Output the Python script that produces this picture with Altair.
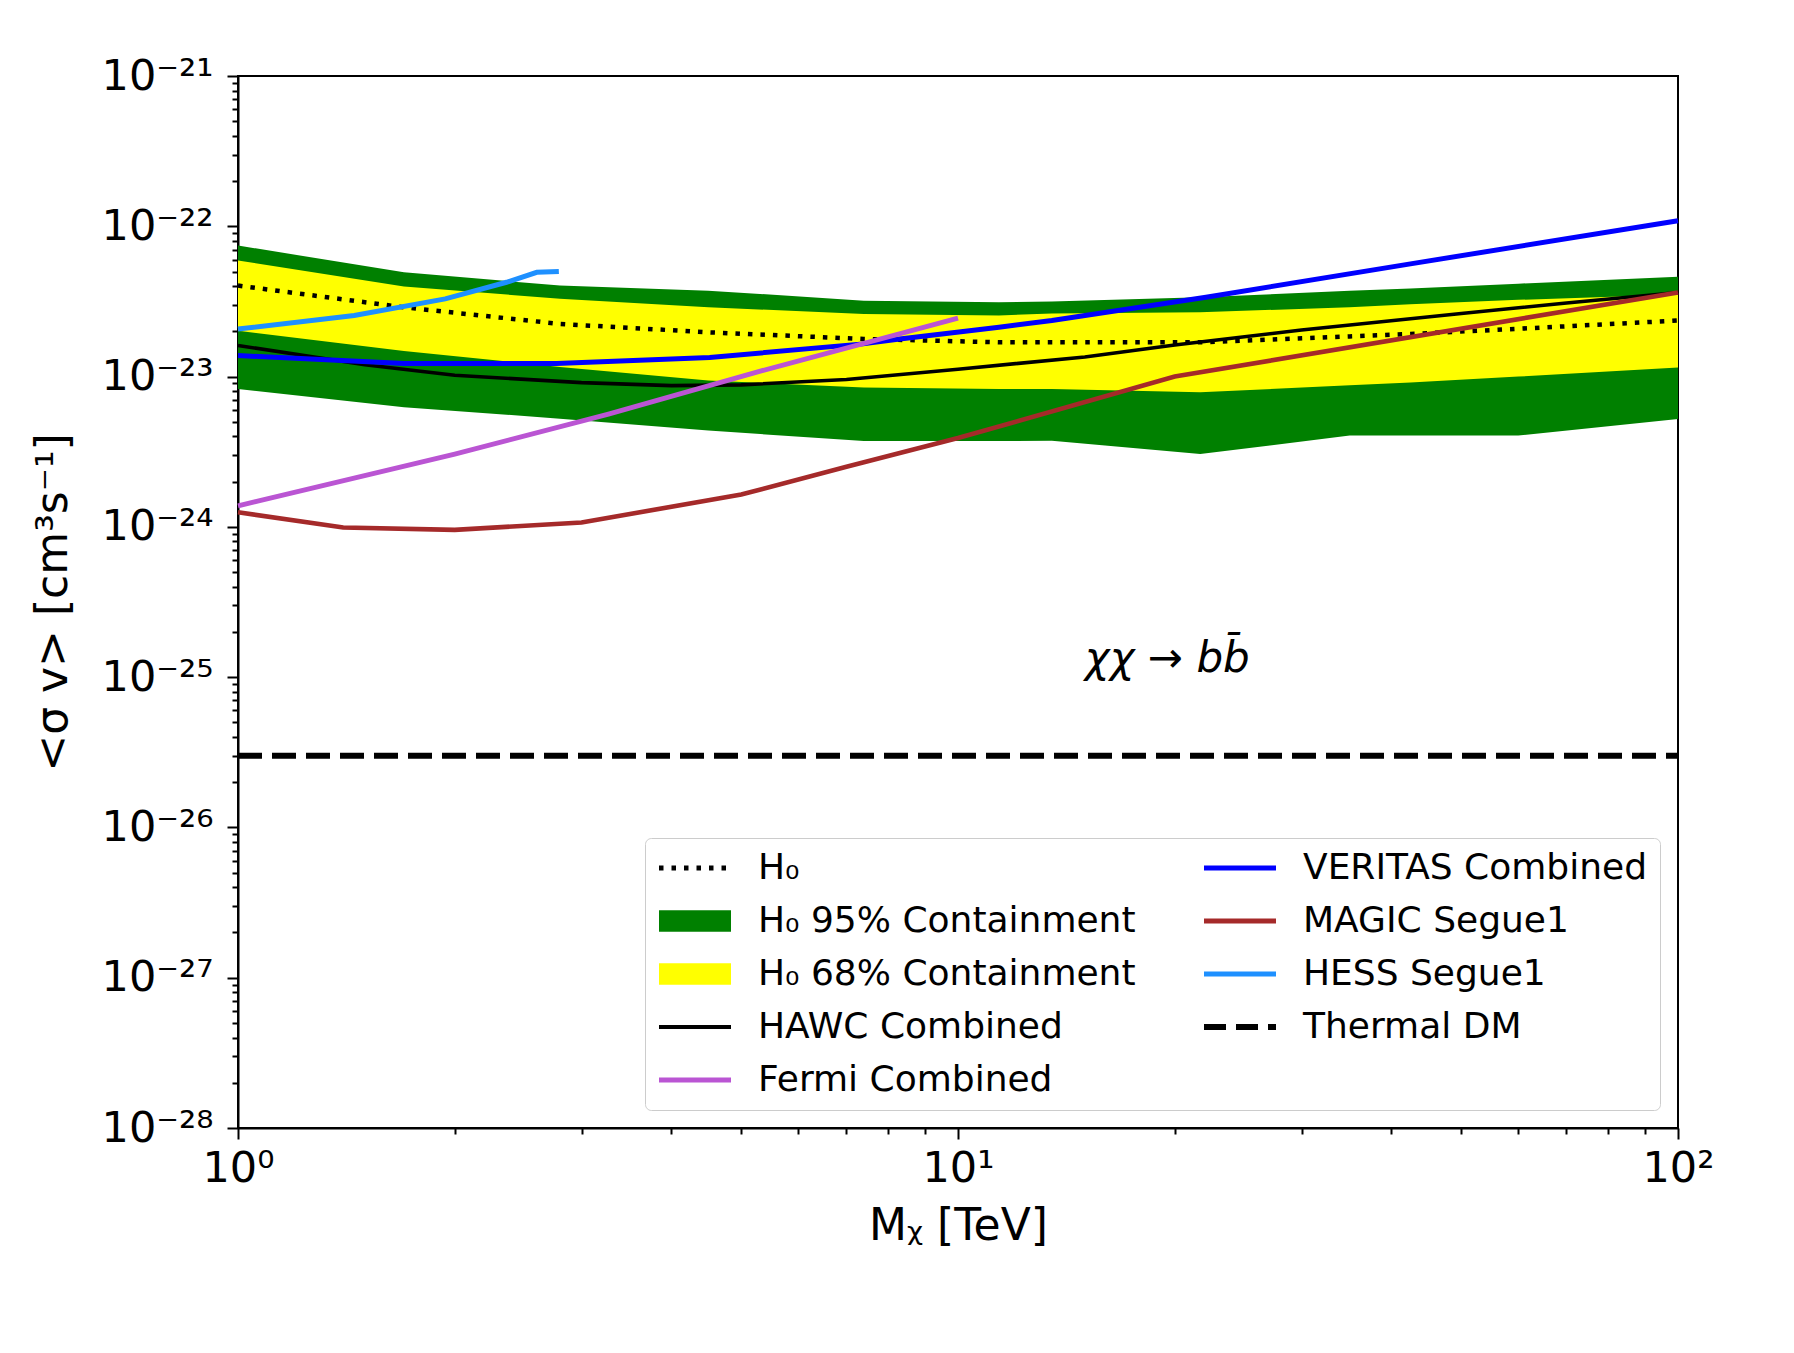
import altair as alt
import pandas as pd

# ---- Expected-limit bands (HAWC, H0 hypothesis), mass in TeV, <sigma v> in cm^3 s^-1
band_mass = [1, 1.7, 2.8, 4.5, 7.4, 11.4, 13.5, 21.7, 35, 42.5, 60, 100]
h0_median = [4.03e-23, 2.89e-23, 2.24e-23, 1.97e-23, 1.78e-23, 1.69e-23,
             1.69e-23, 1.69e-23, 1.85e-23, 1.92e-23, 2.08e-23, 2.36e-23]
h0_95_low = [8.26e-24, 6.24e-24, 5.25e-24, 4.37e-24, 3.72e-24, 3.72e-24,
             3.74e-24, 3.05e-24, 4.05e-24, 4.05e-24, 4.05e-24, 5.22e-24]
h0_95_high = [7.45e-23, 4.94e-23, 4.03e-23, 3.73e-23, 3.20e-23, 3.12e-23,
              3.16e-23, 3.37e-23, 3.72e-23, 3.86e-23, 4.15e-23, 4.62e-23]
h0_68_low = [2.02e-23, 1.48e-23, 1.16e-23, 9.40e-24, 8.47e-24, 8.26e-24,
             8.26e-24, 7.85e-24, 8.75e-24, 9.14e-24, 1.00e-23, 1.15e-23]
h0_68_high = [5.92e-23, 3.98e-23, 3.29e-23, 2.89e-23, 2.61e-23, 2.55e-23,
              2.63e-23, 2.68e-23, 2.89e-23, 3.03e-23, 3.24e-23, 3.51e-23]

# ---- Observed limits
hawc_mass = [1, 1.5, 2, 3, 4, 5, 7, 10, 15, 20, 30, 50, 70, 100]
hawc_limit = [1.61e-23, 1.20e-23, 1.02e-23, 9.12e-24, 8.71e-24, 8.81e-24, 9.55e-24,
              1.12e-23, 1.35e-23, 1.62e-23, 2.04e-23, 2.63e-23, 3.09e-23, 3.63e-23]

veritas_mass = [1, 1.7, 2.77, 4.52, 7.38, 8.3, 11.4, 13.5, 22.1, 42.5, 100]
veritas_limit = [1.38e-23, 1.22e-23, 1.22e-23, 1.34e-23, 1.65e-23, 1.78e-23,
                 2.13e-23, 2.36e-23, 3.37e-23, 5.62e-23, 1.09e-22]

magic_mass = [1, 1.4, 2, 3, 5, 7, 10, 20, 100]
magic_limit = [1.25e-24, 9.9e-25, 9.55e-25, 1.07e-24, 1.64e-24, 2.51e-24,
               3.9e-24, 1.0e-23, 3.63e-23]

hess_mass = [1, 1.45, 1.94, 2.36, 2.6, 2.79]
hess_limit = [2.07e-23, 2.55e-23, 3.29e-23, 4.24e-23, 4.94e-23, 5.01e-23]

fermi_mass = [1, 2, 3.27, 5.33, 10]
fermi_limit = [1.38e-24, 3.05e-24, 5.62e-24, 1.09e-23, 2.45e-23]

thermal_mass = [1, 100]
thermal_xsec = [3e-26, 3e-26]

# ---- Annotation
anno_mass = [15.0]
anno_xsec = [1.32e-25]
anno_text = ["χχ → bb̄"]

# ---- Axis ticks
x_major = [1, 10, 100]
x_tick_labels = ["10⁰", "10¹", "10²"]
x_minor = [m * d for d in (1, 10) for m in range(2, 10)]
y_exponents = [-28, -27, -26, -25, -24, -23, -22, -21]
y_tick_labels = ["10⁻²⁸", "10⁻²⁷", "10⁻²⁶", "10⁻²⁵", "10⁻²⁴", "10⁻²³", "10⁻²²", "10⁻²¹"]
y_major = [10.0 ** e for e in y_exponents]
y_minor = [m * 10.0 ** e for e in y_exponents[:-1] for m in range(2, 10)]

# ---- Series names in legend order (filled column by column) and colours
L_H0 = "H₀"
L_95 = "H₀ 95% Containment"
L_68 = "H₀ 68% Containment"
L_HAWC = "HAWC Combined"
L_FERMI = "Fermi Combined"
L_VER = "VERITAS Combined"
L_MAGIC = "MAGIC Segue1"
L_HESS = "HESS Segue1"
L_TH = "Thermal DM"

legend_order = [L_H0, L_95, L_68, L_HAWC, L_FERMI, L_VER, L_MAGIC, L_HESS, L_TH]
legend_colors = ["black", "green", "yellow", "black", "mediumorchid",
                 "blue", "brown", "dodgerblue", "black"]

FONT = "DejaVu Sans"

# ---- Tables
def line_df(mass, vals, name):
    return pd.DataFrame({"mass": mass, "xsec": vals, "series": name})

band95_df = pd.DataFrame({"mass": band_mass, "low": h0_95_low, "high": h0_95_high, "series": L_95})
band68_df = pd.DataFrame({"mass": band_mass, "low": h0_68_low, "high": h0_68_high, "series": L_68})
h0_df = line_df(band_mass, h0_median, L_H0)
hawc_df = line_df(hawc_mass, hawc_limit, L_HAWC)
ver_df = line_df(veritas_mass, veritas_limit, L_VER)
magic_df = line_df(magic_mass, magic_limit, L_MAGIC)
hess_df = line_df(hess_mass, hess_limit, L_HESS)
fermi_df = line_df(fermi_mass, fermi_limit, L_FERMI)
thermal_df = line_df(thermal_mass, thermal_xsec, L_TH)
anno_df = pd.DataFrame({"mass": anno_mass, "xsec": anno_xsec, "label": anno_text})

# ---- Scales and axes
major_test = "abs(log(datum.value)/LN10 - round(log(datum.value)/LN10)) < 0.001"
expo = "round(log(datum.value)/LN10)"


def label_expr(exps, labels):
    chain = " : ".join(f"{expo} == {e} ? '{lab}'" for e, lab in zip(exps, labels)) + " : ''"
    return f"({major_test}) ? ({chain}) : ''"


tick_size = {"condition": {"test": major_test, "value": 11}, "value": 6}

x_scale = alt.Scale(type="log", domain=[1, 100], nice=False)
y_scale = alt.Scale(type="log", domain=[1e-28, 1e-21], nice=False)

x_axis = alt.Axis(
    values=x_major + x_minor, labelExpr=label_expr([0, 1, 2], x_tick_labels),
    tickSize=tick_size, tickWidth=2, tickColor="black",
    domainColor="black", domainWidth=2, grid=False,
    labelFont=FONT, labelFontSize=43, labelColor="black", labelPadding=8,
    labelOverlap=False, labelFlush=False, labelBound=False,
    title="Mᵪ [TeV]", titleFont=FONT, titleFontSize=44, titleFontWeight="normal",
    titleColor="black", titleX=720, titleY=98, titleBaseline="middle", titleAnchor="middle",
)
y_axis = alt.Axis(
    values=y_major + y_minor, labelExpr=label_expr(y_exponents, y_tick_labels),
    tickSize=tick_size, tickWidth=2, tickColor="black",
    domainColor="black", domainWidth=2, grid=False,
    labelFont=FONT, labelFontSize=43, labelColor="black", labelPadding=14,
    labelOverlap=False, labelFlush=False, labelBound=False,
    title="<σ v> [cm³s⁻¹]", titleFont=FONT, titleFontSize=44, titleFontWeight="normal",
    titleColor="black", titleX=-185, titleY=526, titleBaseline="middle", titleAngle=-90,
    titleAnchor="middle",
)

X = alt.X("mass:Q", scale=x_scale, axis=x_axis)
Y = alt.Y("xsec:Q", scale=y_scale, axis=y_axis)

# ---- Legend with per-entry symbols (lines, dots, dashes, filled patches)
band_test = f"datum.value == '{L_95}' || datum.value == '{L_68}'"
color_expr = " : ".join(f"datum.value == '{n}' ? '{c}'" for n, c in zip(legend_order, legend_colors)) + " : 'black'"
patch_path = "M-1,-0.3H1V0.3H-1Z"

legend = alt.Legend(
    title=None, orient="bottom-right", offset=18, columns=2,
    columnPadding=56, rowPadding=17, padding=12,
    fillColor="rgba(255,255,255,0.8)", strokeColor="#cccccc", cornerRadius=6,
    labelFont=FONT, labelFontSize=36, labelColor="black", labelOffset=45, labelLimit=0,
    symbolSize=5184, symbolOffset=20,
    symbolType=alt.ExprRef(expr=f"({band_test}) ? '{patch_path}' : 'stroke'"),
    symbolFillColor=alt.ExprRef(expr=f"({band_test}) ? ({color_expr}) : 'transparent'"),
    symbolStrokeColor=alt.ExprRef(expr=f"({band_test}) ? 'transparent' : ({color_expr})"),
    symbolDash=alt.ExprRef(expr=f"datum.value == '{L_H0}' ? [4.5, 8] : datum.value == '{L_TH}' ? [22, 10] : [1, 0]"),
    symbolStrokeWidth=alt.ExprRef(
        expr=f"({band_test}) ? 0 : datum.value == '{L_TH}' ? 6 : datum.value == '{L_HAWC}' ? 4 : 5"),
    symbolOpacity=1,
)

C = alt.Color("series:N", scale=alt.Scale(domain=legend_order, range=legend_colors), legend=legend)

# ---- Layers
band95 = alt.Chart(band95_df).mark_area(opacity=1).encode(
    x=X, y=alt.Y("low:Q", scale=y_scale, axis=y_axis), y2="high:Q", color=C)
band68 = alt.Chart(band68_df).mark_area(opacity=1).encode(
    x=X, y=alt.Y("low:Q", scale=y_scale, axis=y_axis), y2="high:Q", color=C)


def line(df, width=5, dash=None):
    kw = {"strokeWidth": width}
    if dash is not None:
        kw["strokeDash"] = dash
    return alt.Chart(df).mark_line(**kw).encode(x=X, y=Y, color=C)


h0 = line(h0_df, 4.5, [4.5, 8])
hawc = line(hawc_df, 3.6)
ver = line(ver_df, 5)
magic = line(magic_df, 4.6)
hess = line(hess_df, 5)
fermi = line(fermi_df, 5)
thermal = line(thermal_df, 6, [24, 10])

anno = alt.Chart(anno_df).mark_text(
    font=FONT, fontSize=42, fontStyle="italic", align="left", baseline="middle", color="black"
).encode(x=X, y=Y, text="label:N")

chart = alt.layer(
    band95, band68, h0, hawc, ver, magic, hess, fermi, thermal, anno
).properties(
    width=1440, height=1052,
    padding={"left": 238, "top": 76, "right": 116, "bottom": 225},
    autosize=alt.AutoSizeParams(type="none"),
    background="white",
).configure_view(
    stroke="black", strokeWidth=2
)

chart.save("out.html", embed_options={"renderer": "svg", "actions": False})
